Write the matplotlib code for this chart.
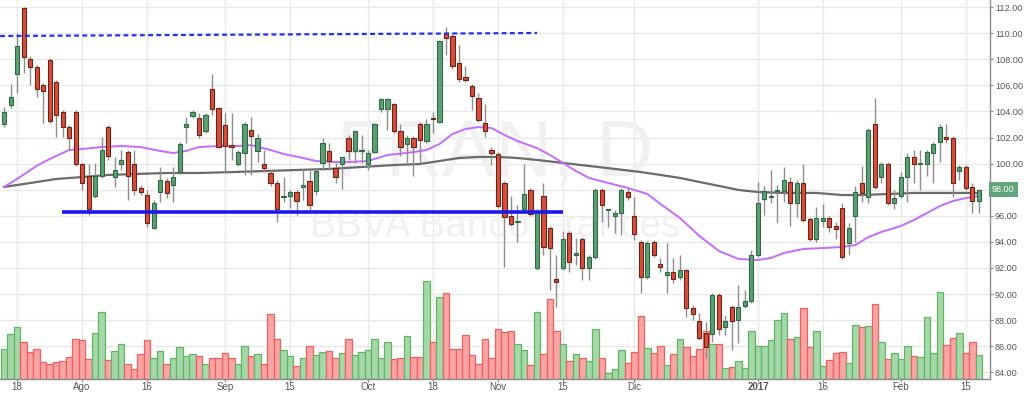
import matplotlib
matplotlib.use("Agg")
import matplotlib.pyplot as plt
import matplotlib.transforms as mtransforms
import numpy as np

plt.rcParams['font.family'] = ['Liberation Sans', 'DejaVu Sans']

# ---------------- data (FRAN daily, Jul 2016 - Feb 2017) ----------------
opens = [103.03, 104.49, 106.87, 111.92, 108.01, 107.40, 106.02, 107.94, 106.25, 103.95,
         102.80, 103.95, 99.97, 99.05, 97.52, 99.05, 102.80, 98.97, 99.97, 100.89,
         99.97, 98.13, 97.59, 95.06, 97.82, 98.67, 98.36, 99.35, 102.80, 103.65,
         103.49, 102.50, 105.72, 104.26, 102.96, 101.42, 99.97, 100.81, 102.57, 100.97,
         99.97, 99.28, 98.51, 97.44, 97.52, 97.82, 98.21, 98.67, 97.90, 100.05,
         100.97, 99.66, 99.97, 101.96, 100.97, 100.97, 99.97, 100.89, 104.18, 104.18,
         104.57, 102.50, 101.50, 101.96, 103.03, 101.73, 103.49, 103.19, 110.01, 109.78,
         107.71, 106.64, 105.95, 105.03, 103.11, 101.04, 100.74, 98.51, 95.98, 95.52,
         96.52, 97.98, 91.99, 97.52, 95.06, 91.16, 91.99, 94.68, 92.99, 94.22,
         91.99, 92.84, 97.98, 96.44, 95.98, 96.21, 97.82, 95.98, 93.99, 91.31,
         93.99, 92.31, 91.46, 91.69, 91.31, 91.85, 88.94, 87.94, 87.02, 86.94,
         89.93, 87.48, 89.01, 88.02, 89.09, 89.47, 92.99, 97.29, 97.44, 97.90,
         97.90, 98.59, 96.98, 98.51, 95.75, 94.22, 95.60, 95.83, 95.22, 96.60,
         93.91, 95.98, 98.51, 97.44, 103.03, 98.97, 99.97, 96.98, 97.52, 98.97,
         100.51, 99.97, 99.97, 100.81, 101.65, 102.04, 101.96, 99.43, 99.74, 98.21, 97.13]

highs = [104.34, 106.10, 110.01, 112.00, 108.25, 107.55, 106.18, 108.09, 106.41, 104.11,
         102.96, 104.11, 100.05, 99.97, 100.05, 102.04, 102.96, 100.51, 101.04, 101.04,
         101.04, 98.36, 97.98, 97.21, 99.74, 98.90, 99.74, 101.65, 103.57, 104.11,
         103.88, 103.88, 106.87, 104.34, 103.88, 103.88, 101.04, 103.19, 103.57, 102.27,
         101.04, 99.51, 98.74, 98.97, 97.98, 97.98, 99.59, 99.59, 99.59, 101.96,
         101.58, 100.05, 100.51, 102.19, 102.50, 102.19, 101.04, 103.11, 105.03, 105.03,
         104.64, 103.03, 102.19, 102.11, 103.19, 103.42, 103.95, 109.47, 110.47, 109.93,
         109.09, 107.48, 106.10, 105.41, 104.57, 101.27, 100.89, 98.67, 97.52, 96.83,
         99.97, 98.13, 96.52, 98.51, 95.22, 92.99, 94.83, 94.83, 94.30, 94.37,
         92.99, 98.13, 98.13, 96.52, 96.44, 98.13, 98.13, 97.44, 94.14, 94.07,
         94.14, 92.77, 93.91, 92.77, 92.99, 91.92, 89.17, 88.55, 87.86, 90.08,
         90.08, 88.40, 89.17, 90.70, 90.31, 93.38, 98.59, 98.29, 99.51, 98.36,
         99.74, 98.97, 98.74, 99.97, 95.91, 96.67, 96.90, 95.98, 95.52, 96.98,
         95.45, 98.29, 99.82, 102.73, 105.03, 100.12, 100.12, 97.98, 99.35, 100.81,
         101.04, 101.04, 101.04, 101.65, 103.03, 103.03, 102.11, 99.89, 99.89, 98.51, 98.05]

lows = [102.80, 104.26, 105.41, 106.94, 106.02, 105.10, 103.11, 103.11, 102.04, 102.04,
        101.04, 99.82, 97.98, 96.06, 97.36, 98.90, 100.28, 98.21, 99.51, 97.21,
        97.59, 97.59, 95.14, 94.99, 97.06, 97.36, 97.06, 99.20, 101.58, 103.49,
        101.96, 102.34, 103.72, 101.19, 99.35, 100.28, 99.82, 99.13, 99.13, 100.12,
        99.35, 98.29, 95.52, 97.06, 96.60, 96.06, 97.21, 96.21, 97.59, 99.51,
        99.51, 98.51, 98.05, 100.28, 100.05, 100.05, 99.51, 100.81, 103.95, 102.57,
        102.34, 100.58, 100.05, 99.05, 100.05, 101.58, 102.34, 103.11, 108.32, 107.25,
        106.25, 106.25, 104.11, 103.19, 102.04, 99.89, 96.60, 92.08, 95.22, 93.99,
        96.37, 95.98, 91.85, 92.99, 90.31, 89.01, 91.85, 91.69, 92.23, 91.08,
        91.08, 92.69, 95.52, 95.14, 94.68, 94.53, 97.21, 94.14, 90.08, 91.16,
        92.84, 91.69, 90.08, 90.85, 91.08, 88.25, 88.02, 86.48, 85.10, 86.33,
        86.87, 86.87, 85.72, 86.25, 88.94, 89.32, 92.84, 96.06, 96.98, 95.45,
        97.06, 95.22, 95.91, 95.52, 94.07, 93.99, 95.14, 94.76, 94.22, 92.69,
        92.99, 93.99, 97.06, 96.98, 98.05, 98.51, 96.83, 96.52, 97.36, 97.06,
        98.51, 97.98, 99.05, 98.51, 100.12, 101.58, 97.44, 98.74, 97.98, 96.21, 96.21]

closes = [103.95, 105.10, 109.01, 108.17, 107.40, 105.72, 105.56, 103.26, 103.72, 102.80,
          101.96, 99.97, 98.51, 96.52, 99.05, 101.04, 100.58, 99.51, 100.28, 99.05,
          97.98, 97.82, 95.45, 96.98, 98.74, 97.75, 98.97, 101.50, 103.03, 103.95,
          102.19, 103.72, 104.18, 101.27, 101.35, 101.27, 100.89, 103.03, 102.11, 101.96,
          99.66, 98.51, 96.52, 97.52, 97.82, 97.13, 98.36, 96.83, 99.43, 101.58,
          100.20, 98.97, 100.51, 100.97, 102.50, 101.04, 100.81, 103.03, 104.95, 104.95,
          102.50, 101.27, 101.96, 101.27, 101.81, 103.03, 103.42, 109.39, 109.62, 107.48,
          106.48, 106.41, 105.18, 103.34, 102.50, 100.81, 96.75, 95.91, 95.37, 95.60,
          97.67, 96.14, 96.29, 93.61, 93.53, 90.93, 94.22, 92.46, 93.15, 91.99,
          92.84, 97.98, 96.83, 96.52, 96.21, 97.98, 97.44, 94.60, 91.31, 93.91,
          92.99, 92.08, 91.69, 91.16, 91.85, 88.94, 88.47, 86.64, 85.95, 89.93,
          87.33, 87.94, 87.94, 89.01, 89.47, 92.99, 96.98, 97.90, 97.52, 97.98,
          98.74, 96.98, 98.51, 95.68, 94.22, 95.83, 95.83, 95.14, 94.99, 92.84,
          95.06, 97.82, 97.75, 102.57, 98.21, 99.97, 96.98, 97.36, 98.97, 100.51,
          99.97, 100.05, 100.89, 101.50, 102.80, 101.88, 98.51, 99.74, 98.13, 97.13, 98.00]

volume = [300, 450, 520, 370, 270, 300, 170, 150, 170, 180,
          220, 400, 390, 200, 460, 670, 190, 280, 350, 150,
          100, 250, 390, 210, 280, 150, 210, 320, 230, 250,
          230, 150, 210, 210, 260, 210, 150, 330, 230, 250,
          150, 650, 400, 290, 230, 130, 210, 330, 240, 270,
          280, 210, 260, 400, 240, 270, 290, 400, 210, 370,
          200, 210, 430, 220, 220, 980, 370, 820, 860, 300,
          300, 440, 240, 150, 400, 210, 500, 470, 480, 350,
          290, 140, 670, 250, 800, 480, 350, 180, 250, 210,
          180, 500, 210, 60, 100, 290, 160, 270, 630, 310,
          260, 330, 140, 250, 400, 320, 230, 300, 480, 350,
          350, 110, 120, 180, 110, 480, 330, 330, 390, 590,
          660, 400, 420, 710, 320, 480, 130, 190, 260, 270,
          160, 540, 520, 530, 750, 370, 200, 260, 200, 330,
          230, 220, 620, 260, 870, 340, 410, 460, 260, 370, 240]

# moving averages (bar index, price)
ma_fast_idx = [0, 2, 5, 7, 10, 12, 15, 18, 21, 24, 26, 28, 30, 33, 36, 38, 41, 43, 46, 48,
               51, 53, 56, 59, 62, 65, 67, 69, 71, 73, 75, 77, 79, 82, 84, 86, 88, 90, 93, 96,
               99, 101, 104, 107, 110, 113, 116, 118, 120, 123, 126, 129, 131, 133, 135, 138,
               140, 142, 144, 146, 148, 150]
ma_fast = [98.21, 98.82, 99.82, 100.35, 101.04, 101.12, 101.27, 101.35, 101.27, 100.97,
           100.81, 100.97, 101.27, 101.35, 101.35, 101.42, 101.04, 100.74, 100.43, 100.20,
           100.12, 100.12, 100.20, 100.66, 100.81, 101.04, 101.50, 102.27, 102.65, 102.80,
           102.73, 102.19, 101.73, 101.19, 100.66, 100.05, 99.43, 98.90, 98.51, 98.13,
           97.67, 96.90, 95.83, 94.45, 93.30, 92.69, 92.61, 92.77, 93.15, 93.46,
           93.53, 93.61, 93.76, 94.37, 94.76, 95.22, 95.68, 96.21, 96.75, 97.13, 97.36, 97.52]

ma_slow_idx = [0, 4, 8, 12, 16, 20, 25, 30, 35, 40, 45, 50, 55, 60, 64, 67, 70, 73, 76, 79,
               82, 86, 90, 94, 98, 101, 104, 107, 110, 113, 116, 120, 125, 129, 132, 136,
               140, 145, 150]
ma_slow = [98.21, 98.51, 98.82, 98.97, 99.13, 99.20, 99.28, 99.28, 99.35, 99.43,
           99.51, 99.59, 99.74, 99.89, 99.97, 100.20, 100.43, 100.51, 100.51, 100.43,
           100.28, 100.05, 99.82, 99.59, 99.35, 99.13, 98.90, 98.59, 98.29, 97.98,
           97.82, 97.75, 97.75, 97.59, 97.59, 97.67, 97.75, 97.75, 97.75]

# drawn levels
resistance_idx = [-0.6, 82]
resistance_price = [109.78, 110.01]
support_idx = [8.9, 86]
support_price = [96.31, 96.31]

tick_idx = [2, 12, 22, 34, 44, 56, 66, 76, 86, 97, 116, 126, 138, 148]
tick_labels = ["18", "Ago", "16", "Sep", "15", "Oct", "18", "Nov", "15", "Dic",
               "2017", "16", "Feb", "15"]
price_ticks = list(range(84, 113, 2))

# ---------------- figure ----------------
W, H = 1024, 394
fig = plt.figure(figsize=(W / 100, H / 100), dpi=100)
ax = fig.add_axes([0, 15 / H, 990 / W, 379 / H])
ax.set_xlim(-0.62, 151.7)
ax.set_ylim(83.49, 112.54)

o = np.array(opens); h = np.array(highs); l = np.array(lows); c = np.array(closes)
v = np.array(volume, dtype=float)
idx = np.arange(len(o))
up = c >= o

# volume on bottom, own scale (axis fraction)
vol_top = 3790.0
vtrans = mtransforms.blended_transform_factory(ax.transData, ax.transAxes)
ax.bar(idx, v / vol_top, width=1.0, bottom=0, transform=vtrans,
       color=np.where(up, '#a6d7a8', '#f9a5a5'),
       edgecolor=np.where(up, '#62b565', '#f0605e'), linewidth=0.9, zorder=2)

# watermark
ax.text(0.50, 0.59, "FRAN, D", transform=ax.transAxes, ha='center', va='center',
        fontsize=57, color='#f1f1f1', zorder=0.6)
ax.text(0.50, 0.40, "BBVA Banco Frances", transform=ax.transAxes, ha='center',
        va='center', fontsize=28, color='#f1f1f1', zorder=0.6)

# moving averages
ax.plot(ma_slow_idx, ma_slow, color='#6b6b6b', lw=1.6, zorder=3)
ax.plot(ma_fast_idx, ma_fast, color='#c46cff', lw=1.4, zorder=3)

# candles
ax.vlines(idx, l, h, color='#8e8e8e', lw=1.0, zorder=4)
body_low = np.minimum(o, c)
body_h = np.maximum(np.abs(c - o), 0.07)
ax.bar(idx, body_h, bottom=body_low, width=0.62,
       color=np.where(up, '#5e9e74', '#d2503d'),
       edgecolor=np.where(up, '#2f6a45', '#6e2216'), linewidth=0.8, zorder=5)

# drawn levels
ax.plot(resistance_idx, resistance_price, color='#2233ee', lw=1.6,
        ls=(0, (2.2, 1.5)), zorder=6)
ax.plot(support_idx, support_price, color='#1a1ae8', lw=2.6, zorder=6,
        solid_capstyle='butt')

# axes styling
last = c[-1]
ax.set_yticks(price_ticks)
# the last-price badge replaces the tick label at the same level
ax.set_yticklabels(["" if abs(p - last) < 0.5 else f"{p:.2f}" for p in price_ticks])
ax.set_xticks(tick_idx)
ax.set_xticklabels(tick_labels)
for lab in ax.get_xticklabels():
    if lab.get_text() == "2017":
        lab.set_fontweight('bold')
ax.yaxis.tick_right()
ax.tick_params(axis='y', which='both', direction='out', length=2, width=0.8,
               colors='#8a8a8a', labelcolor='#555555', labelsize=6.6, pad=1.5)
ax.tick_params(axis='x', which='both', direction='out', length=2.5, width=0.8,
               colors='#8a8a8a', labelcolor='#555555', labelsize=7, pad=0)
ax.grid(True, color='#e8e8e8', lw=1.0)
ax.set_axisbelow(True)
for side in ('top', 'left'):
    ax.spines[side].set_visible(False)
for side in ('bottom', 'right'):
    ax.spines[side].set_color('#8a8a8a')
    ax.spines[side].set_linewidth(1.0)

# last price badge
ax.annotate(f"{last:.2f}", xy=(1.0, last), xycoords=('axes fraction', 'data'),
            xytext=(1.5, 0), textcoords='offset points', ha='left', va='center',
            fontsize=6.6, color='white', annotation_clip=False, zorder=10,
            bbox=dict(boxstyle='square,pad=0.35', fc='#62a47c', ec='none'))

fig.savefig("out.png", dpi=100)
